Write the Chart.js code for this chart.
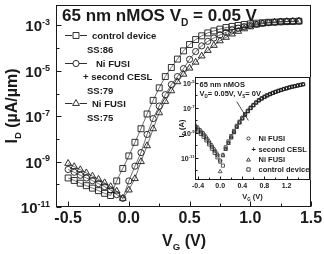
<!DOCTYPE html>
<html><head><meta charset="utf-8">
<script src="https://cdn.jsdelivr.net/npm/chart.js@4.4.1/dist/chart.umd.min.js"></script>
<style>
html,body{margin:0;padding:0;background:#fff;width:324px;height:254px;overflow:hidden}
#wrap{position:relative;width:324px;height:254px}
#main{position:absolute;left:0;top:0}
#inset{position:absolute;left:165px;top:70px}
</style></head><body>
<div id="wrap"><canvas id="main" width="324" height="254"></canvas><canvas id="inset" width="150" height="135"></canvas></div>
<script>
// ---------- main chart data (I_D in uA/um vs V_G in V) ----------
const vg = [-0.5,-0.45,-0.4,-0.35,-0.3,-0.25,-0.2,-0.15,-0.1,-0.05,0,0.05,0.1,0.15,0.2,0.25,0.3,0.35,0.4,0.45,0.5,0.55,0.6,0.65,0.7,0.75,0.8,0.85,0.9,0.95,1.0,1.05,1.1,1.15,1.2,1.25,1.3,1.35,1.4];
const controlId = [1.9e-10,1.48e-10,1.12e-10,8.7e-11,6.8e-11,5.25e-11,4.0e-11,3.2e-11,1.41e-10,5.0e-10,1.78e-9,7.1e-9,2.8e-8,1.26e-7,5.0e-7,1.78e-6,5.6e-6,1.41e-5,3.3e-5,7.6e-5,1.45e-4,2.4e-4,3.5e-4,4.7e-4,5.75e-4,6.9e-4,8.1e-4,9.1e-4,1.0e-3,1.1e-3,1.17e-3,1.26e-3,1.32e-3,1.38e-3,1.41e-3,1.45e-3,1.48e-3,1.51e-3,1.55e-3];
const ceslId = [4.5e-10,3.4e-10,2.5e-10,1.9e-10,1.45e-10,1.07e-10,7.9e-11,5.6e-11,3.5e-11,2.4e-11,1.41e-10,6.3e-10,2.5e-9,1.58e-8,7.9e-8,2.8e-7,8.9e-7,2.5e-6,5.6e-6,1.26e-5,3.2e-5,7.1e-5,1.26e-4,2.0e-4,2.8e-4,3.8e-4,5.0e-4,6.3e-4,7.6e-4,8.9e-4,1.0e-3,1.12e-3,1.23e-3,1.32e-3,1.38e-3,1.45e-3,1.48e-3,1.51e-3,1.55e-3];
const niFusiId = [8.3e-10,6.0e-10,4.4e-10,3.2e-10,2.3e-10,1.66e-10,1.17e-10,7.9e-11,5.0e-11,2.4e-11,5.6e-11,1.78e-10,1.0e-9,5.0e-9,2.8e-8,1.41e-7,4.5e-7,1.32e-6,3.3e-6,7.1e-6,1.32e-5,2.4e-5,4.5e-5,7.9e-5,1.32e-4,2.1e-4,3.0e-4,4.2e-4,5.5e-4,7.1e-4,8.7e-4,1.05e-3,1.17e-3,1.29e-3,1.38e-3,1.45e-3,1.48e-3,1.51e-3,1.55e-3];
const xTickValues = [-0.5,0,0.5,1.0,1.5];
const xTickLabels = ['-0.5','0.0','0.5','1.0','1.5'];
const yTickExps = [-3,-5,-7,-9,-11];
const legendNames = ['control device','Ni FUSI','+ second CESL','Ni FUSI'];
const ssLabels = ['SS:86','SS:79','SS:75'];

// ---------- inset data (I_D in A) ----------
const vgInset = [-0.45,-0.4,-0.35,-0.3,-0.25,-0.2,-0.15,-0.1,-0.05,0,0.05,0.1,0.15,0.2,0.25,0.3,0.35,0.4,0.45,0.5,0.55,0.6,0.65,0.7,0.75,0.8,0.85,0.9,0.95,1.0,1.05,1.1,1.15,1.2,1.25,1.3,1.35,1.4,1.45,1.5];
const insetCesl = [3.2e-9,1.9e-9,1.15e-9,6.9e-10,3.5e-10,1.66e-10,7.6e-11,3.5e-11,1.58e-11,6.3e-12,1.78e-11,5.6e-11,1.66e-10,4.5e-10,1.2e-9,3.2e-9,7.1e-9,1.48e-8,2.95e-8,5.6e-8,1.0e-7,1.66e-7,2.7e-7,4.0e-7,5.6e-7,7.6e-7,1.0e-6,1.26e-6,1.55e-6,1.9e-6,2.3e-6,2.7e-6,3.2e-6,3.7e-6,4.3e-6,4.9e-6,5.5e-6,6.2e-6,6.9e-6,7.8e-6];
const insetNiFusi = [4.5e-9,2.7e-9,1.6e-9,9.5e-10,4.9e-10,2.3e-10,1.05e-10,4.8e-11,2.1e-11,8e-13,1.5e-11,4.8e-11,1.45e-10,4.0e-10,1.05e-9,2.8e-9,6.3e-9,1.32e-8,2.6e-8,5.0e-8,9.0e-8,1.5e-7,2.45e-7,3.7e-7,5.2e-7,7.1e-7,9.3e-7,1.18e-6,1.48e-6,1.8e-6,2.2e-6,2.6e-6,3.1e-6,3.6e-6,4.2e-6,4.8e-6,5.4e-6,6.0e-6,6.7e-6,7.5e-6];
const insetControl = [2.3e-9,1.35e-9,8.2e-10,4.9e-10,2.5e-10,1.2e-10,5.4e-11,2.5e-11,1.1e-11,5.0e-12,2.4e-12,7.1e-11,2.1e-10,5.6e-10,1.45e-9,3.7e-9,8.1e-9,1.66e-8,3.2e-8,6.0e-8,1.06e-7,1.75e-7,2.8e-7,4.3e-7,6.0e-7,8.1e-7,1.05e-6,1.32e-6,1.62e-6,1.95e-6,2.35e-6,2.8e-6,3.3e-6,3.8e-6,4.4e-6,5.0e-6,5.6e-6,6.3e-6,7.0e-6,7.9e-6];
const pointerV = [0.3,0.51];
const pointerI = [3.2e-7,1.0e-8];
const insetXTickValues = [-0.4,0,0.4,0.8,1.2];
const insetXTickLabels = ['-0.4','0.0','0.4','0.8','1.2'];
const insetYTickExps = [-5,-7,-9,-11];
const insetLegend = ['Ni FUSI','second CESL','Ni FUSI','control device'];

const FF = '"Liberation Sans", Arial, sans-serif';
const INK = '#1a1a1a';

function pts(xs, ys){ return xs.map((v,i)=>({x:v,y:ys[i]})); }

// draw a sequence of [text, mode] pieces; mode: 0 normal, 1 subscript, 2 superscript
function richWidth(ctx, parts, size){
  let w=0;
  for(const [t,m] of parts){ ctx.font = 'bold '+(m? size*0.6 : size)+'px '+FF; w += ctx.measureText(t).width; }
  return w;
}
function drawRich(ctx, parts, x, y, size, align){
  let w = richWidth(ctx, parts, size);
  let cx = align==='center' ? x - w/2 : (align==='right' ? x - w : x);
  ctx.textBaseline='alphabetic'; ctx.textAlign='left';
  for(const [t,m] of parts){
    const s = m? size*0.6 : size;
    ctx.font = 'bold '+s+'px '+FF;
    const dy = m===1 ? size*0.28 : (m===2 ? -size*0.42 : 0);
    ctx.fillText(t, cx, y+dy);
    cx += ctx.measureText(t).width;
  }
}
function hline(ctx,x1,y1,x2,y2){ ctx.beginPath(); ctx.moveTo(x1,y1); ctx.lineTo(x2,y2); ctx.stroke(); }

function markerPath(ctx, style, x, y, r){
  ctx.beginPath();
  if(style==='rect'){ const s=r*Math.SQRT1_2; ctx.rect(x-s,y-s,2*s,2*s); }
  else if(style==='triangle'){ ctx.moveTo(x, y-r); ctx.lineTo(x+r*0.866, y+r*0.5); ctx.lineTo(x-r*0.866, y+r*0.5); ctx.closePath(); }
  else { ctx.arc(x,y,r,0,Math.PI*2); }
  ctx.stroke();
}

const mainDecor = {
  id:'mainDecor',
  afterDraw(chart){
    const {ctx, chartArea:a, scales:{x,y}} = chart;
    ctx.save();
    ctx.strokeStyle=INK; ctx.fillStyle=INK; ctx.lineWidth=1;
    const L=Math.round(a.left)+0.5, R=Math.round(a.right)-0.5, T=Math.round(a.top)+0.5, B=Math.round(a.bottom)-0.5;
    ctx.strokeRect(L,T,R-L,B-T);
    // x ticks (inward)
    for(let v=-0.5; v<=1.5001; v+=0.25){
      const px = Math.round(x.getPixelForValue(v))+0.5;
      const major = Math.abs(v*2-Math.round(v*2))<1e-6;
      hline(ctx, px, B, px, B-(major?5:3));
    }
    // y ticks (inward)
    for(let e=-11; e<=-3; e++){
      const py = Math.round(y.getPixelForValue(Math.pow(10,e)))+0.5;
      const major = (e%2!==0);
      hline(ctx, L, py, L+(major?5:3), py);
    }
    // x tick labels
    ctx.font='bold 16px '+FF; ctx.textAlign='center'; ctx.textBaseline='middle';
    xTickValues.forEach((v,i)=>{ ctx.fillText(xTickLabels[i], x.getPixelForValue(v), 219); });
    // y tick labels
    yTickExps.forEach(e=>{
      const py = y.getPixelForValue(Math.pow(10,e));
      drawRich(ctx, [['10',0],[String(e),2]], 50, py+6, 15, 'right');
    });
    // axis titles
    drawRich(ctx, [['V',0],['G',1],[' (V)',0]], 184, 246, 16, 'center');
    ctx.save(); ctx.translate(17, 106); ctx.rotate(-Math.PI/2);
    drawRich(ctx, [['I',0],['D',1],[' (\u00b5A/\u00b5m)',0]], 0, 0, 16, 'center');
    ctx.restore();
    // title
    drawRich(ctx, [['65 nm nMOS V',0],['D',1],[' = 0.05 V',0]], 62, 21, 17, 'left');
    // legend
    ctx.lineWidth=0.9;
    const rows = [[35,'rect',4.2,legendNames[0]],[63,'circle',3.1,legendNames[1]],[103,'triangle',3.9,legendNames[3]]];
    rows.forEach(([ly,st,r,name],i)=>{
      hline(ctx,65,ly+0.5,87,ly+0.5);
      ctx.fillStyle='#fff'; ctx.beginPath(); ctx.arc(76,ly+0.5,r-0.3,0,Math.PI*2); ctx.fill();
      ctx.fillStyle=INK;
      markerPath(ctx, st, 76, ly+0.5, r);
      ctx.font='bold 9.5px '+FF; ctx.textAlign='left'; ctx.textBaseline='middle';
      ctx.fillText(name, i===1 ? 96 : 92, ly+1);
    });
    ctx.font='bold 9.5px '+FF; ctx.textAlign='left'; ctx.textBaseline='middle';
    ctx.fillText(legendNames[2], 83, 77);
    ctx.fillText(ssLabels[0], 87, 50);
    ctx.fillText(ssLabels[1], 87, 91);
    ctx.fillText(ssLabels[2], 87, 118);
    ctx.restore();
  }
};

const baseDs = {showLine:true, borderColor:'#333', borderWidth:0.7, backgroundColor:'rgba(0,0,0,0)', pointBackgroundColor:'rgba(0,0,0,0)', pointBorderColor:INK, pointBorderWidth:0.9, tension:0};
new Chart(document.getElementById('main'), {
  type:'scatter',
  data:{datasets:[
    Object.assign({}, baseDs, {label:'control device', data:pts(vg,controlId), pointStyle:'rect', pointRadius:4.2}),
    Object.assign({}, baseDs, {label:'Ni FUSI + second CESL', data:pts(vg,ceslId), pointStyle:'circle', pointRadius:3.1}),
    Object.assign({}, baseDs, {label:'Ni FUSI', data:pts(vg,niFusiId), pointStyle:'triangle', pointRadius:3.9})
  ]},
  options:{
    responsive:false, animation:false, devicePixelRatio:1,
    layout:{padding:{top:5,right:13,left:0,bottom:0}},
    plugins:{legend:{display:false}, tooltip:{enabled:false}},
    scales:{
      x:{type:'linear', min:-0.6, max:1.5, ticks:{display:false}, grid:{display:false}, border:{display:false}, afterFit(s){s.height=47;}},
      y:{type:'logarithmic', min:1e-11, max:7.9e-3, ticks:{display:false}, grid:{display:false}, border:{display:false}, afterFit(s){s.width=56;}}
    }
  },
  plugins:[mainDecor]
});

// ---------- inset ----------
const insetDecor = {
  id:'insetDecor',
  beforeDatasetsDraw(chart){
    const {ctx, chartArea:a} = chart;
    ctx.save(); ctx.fillStyle='#fff'; ctx.fillRect(a.left,a.top,a.right-a.left,a.bottom-a.top); ctx.restore();
  },
  afterDraw(chart){
    const {ctx, chartArea:a, scales:{x,y}} = chart;
    ctx.save();
    ctx.strokeStyle=INK; ctx.fillStyle=INK; ctx.lineWidth=1;
    const L=Math.round(a.left)+0.5, R=Math.round(a.right)-0.5, T=Math.round(a.top)+0.5, B=Math.round(a.bottom)-0.5;
    ctx.strokeRect(L,T,R-L,B-T);
    for(let v=-0.4; v<=1.6001; v+=0.2){
      const px = Math.round(x.getPixelForValue(v))+0.5;
      const major = Math.abs(v/0.4-Math.round(v/0.4))<1e-6;
      hline(ctx, px, B, px, B-(major?3:2));
    }
    for(let e=-12; e<=-5; e++){
      const py = Math.round(y.getPixelForValue(Math.pow(10,e)))+0.5;
      hline(ctx, L, py, L+(e%2!==0?3:2), py);
    }
    ctx.font='bold 7px '+FF; ctx.textAlign='center'; ctx.textBaseline='middle';
    insetXTickValues.forEach((v,i)=>ctx.fillText(insetXTickLabels[i], x.getPixelForValue(v), B+7));
    insetYTickExps.forEach(e=>{
      drawRich(ctx, [['10',0],[String(e),2]], L-1, y.getPixelForValue(Math.pow(10,e))+3, 7, 'right');
    });
    drawRich(ctx, [['V',0],['G',1],[' (V)',0]], (L+R)/2, B+19, 7.5, 'center');
    ctx.save(); ctx.translate(L-12, (T+B)/2); ctx.rotate(-Math.PI/2);
    drawRich(ctx, [['I',0],['D',1],[' (A)',0]], 0, 0, 7.5, 'center');
    ctx.restore();
    // inset title
    drawRich(ctx, [['65 nm nMOS',0]], L+4, T+9, 7.5, 'left');
    drawRich(ctx, [['V',0],['D',1],['= 0.05V, V',0],['S',1],['= 0V',0]], L+4, T+18, 7.5, 'left');
    // inset legend
    ctx.lineWidth=0.8;
    const lx = L+53;
    markerPath(ctx,'circle',lx,T+61,1.6);
    markerPath(ctx,'triangle',lx,T+82.5,2.2);
    markerPath(ctx,'rect',lx,T+92,2.4);
    ctx.font='bold 7.5px '+FF; ctx.textAlign='left'; ctx.textBaseline='middle';
    ctx.fillText(insetLegend[0], lx+10, T+61);
    ctx.fillText('+', lx+3, T+72);
    ctx.fillText(insetLegend[1], lx+10, T+72);
    ctx.fillText(insetLegend[2], lx+10, T+82);
    ctx.fillText(insetLegend[3], lx+10, T+92);
    ctx.restore();
  }
};
const inDs = {showLine:false, backgroundColor:'rgba(0,0,0,0)', pointBackgroundColor:'rgba(0,0,0,0)', pointBorderColor:INK, pointBorderWidth:0.7};
new Chart(document.getElementById('inset'), {
  type:'scatter',
  data:{datasets:[
    Object.assign({}, inDs, {label:'control device', data:pts(vgInset,insetControl), pointStyle:'rect', pointRadius:2.2}),
    Object.assign({}, inDs, {label:'Ni FUSI', data:pts(vgInset,insetNiFusi), pointStyle:'triangle', pointRadius:2.2}),
    Object.assign({}, inDs, {label:'Ni FUSI + second CESL', data:pts(vgInset,insetCesl), pointStyle:'circle', pointRadius:1.7}),
    {label:'pointer', data:pts(pointerV,pointerI), showLine:true, borderColor:INK, borderWidth:0.8, pointRadius:0}
  ]},
  options:{
    responsive:false, animation:false, devicePixelRatio:1,
    layout:{padding:{top:7,right:4,left:0,bottom:0}},
    plugins:{legend:{display:false}, tooltip:{enabled:false}},
    scales:{
      x:{type:'linear', min:-0.455, max:1.63, ticks:{display:false}, grid:{display:false}, border:{display:false}, afterFit(s){s.height=25;}},
      y:{type:'logarithmic', min:1.7e-13, max:3.0e-5, ticks:{display:false}, grid:{display:false}, border:{display:false}, afterFit(s){s.width=30;}}
    }
  },
  plugins:[insetDecor]
});
</script>
</body></html>
